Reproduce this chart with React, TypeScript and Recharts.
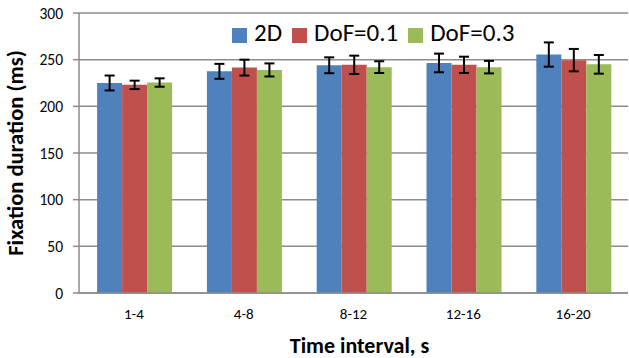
import { BarChart, Bar, XAxis, YAxis, CartesianGrid, Legend, ErrorBar, Label } from "recharts";

const intervals = ["1-4", "4-8", "8-12", "12-16", "16-20"];
const flat2D = [225, 237.5, 244, 246.5, 255.5];
const dof01 = [223, 241.5, 244.5, 244.5, 249.5];
const dof03 = [225.5, 239, 242, 242, 245];
const err2D = [8, 8, 8.5, 10, 13];
const errDof01 = [4.5, 8.5, 9.8, 8.7, 12];
const errDof03 = [4.5, 7, 6.3, 6.7, 10];
const yTicks = [0, 50, 100, 150, 200, 250, 300];

const data = intervals.map((name, i) => ({
  name,
  d2: flat2D[i],
  d01: dof01[i],
  d03: dof03[i],
  e2: err2D[i],
  e01: errDof01[i],
  e03: errDof03[i],
}));

const font = "Carlito, Calibri, 'Liberation Sans Narrow', 'Open Sans', sans-serif";
const grid = "#8c8c8c";

export default function App() {
  return (
    <div style={{ position: "absolute", left: 0, top: 0, background: "#fff", fontFamily: font }}>
      <BarChart
        width={629}
        height={358}
        data={data}
        margin={{ top: 13, right: 1, bottom: 0, left: 0 }}
        barCategoryGap="16.5%"
        barGap={0}
      >
        <CartesianGrid vertical={false} stroke={grid} strokeWidth={1.5} />
        <XAxis
          dataKey="name"
          height={65}
          stroke={grid}
          strokeWidth={1.5}
          tickLine={false}
          tickMargin={9}
          tick={{ fill: "#000", fontSize: 15, fontFamily: font }}
        >
          <Label
            value="Time interval, s"
            position="insideBottom"
            offset={5}
            dx={6}
            style={{ fill: "#000", fontSize: 22, fontWeight: "bold", fontFamily: font }}
          />
        </XAxis>
        <YAxis
          width={79}
          domain={[0, 300]}
          ticks={yTicks}
          stroke={grid}
          strokeWidth={1.5}
          tickSize={6}
          tickMargin={10}
          tick={{ fill: "#000", fontSize: 15.5, fontFamily: font }}
        >
          <Label
            value="Fixation duration (ms)"
            angle={-90}
            position="insideLeft"
            offset={15}
            style={{ textAnchor: "middle", fill: "#000", fontSize: 22.5, fontWeight: "bold", fontFamily: font }}
          />
        </YAxis>
        <Legend
          layout="horizontal"
          verticalAlign="middle"
          align="center"
          iconType="square"
          iconSize={15}
          wrapperStyle={{ position: "absolute", left: 232, top: 18, width: "auto", fontSize: 25, fontFamily: font, lineHeight: "30px" }}
          formatter={(v: string) => <span style={{ color: "#000", marginLeft: 3 }}>{v}</span>}
        />
        <Bar dataKey="d2" name="2D" fill="#4f81bd" isAnimationActive={false}>
          <ErrorBar dataKey="e2" width={5} stroke="#000" strokeWidth={2} />
        </Bar>
        <Bar dataKey="d01" name="DoF=0.1" fill="#c0504d" isAnimationActive={false}>
          <ErrorBar dataKey="e01" width={5} stroke="#000" strokeWidth={2} />
        </Bar>
        <Bar dataKey="d03" name="DoF=0.3" fill="#9bbb59" isAnimationActive={false}>
          <ErrorBar dataKey="e03" width={5} stroke="#000" strokeWidth={2} />
        </Bar>
      </BarChart>
    </div>
  );
}
